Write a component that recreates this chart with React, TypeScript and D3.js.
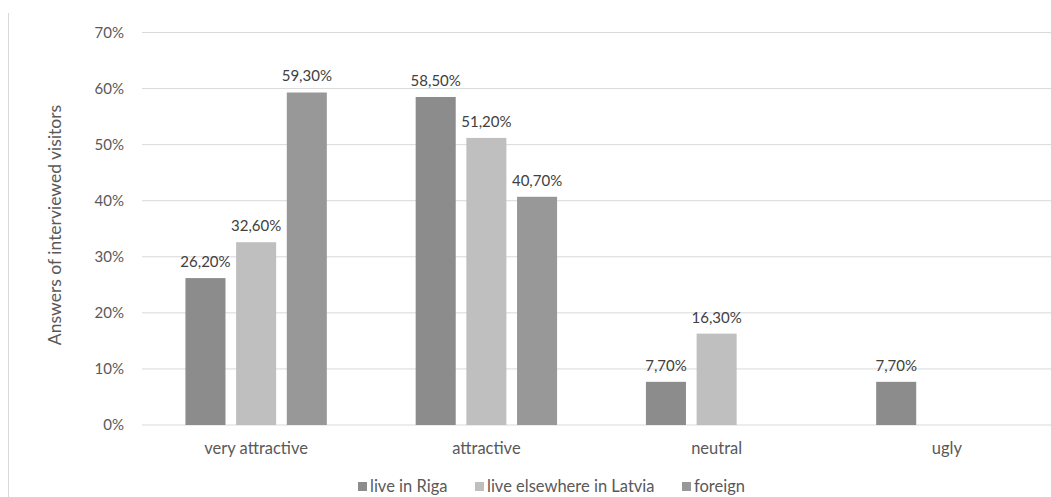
import React from "react";
import * as d3 from "d3";

const categories = ["very attractive", "attractive", "neutral", "ugly"];
const series = ["live in Riga", "live elsewhere in Latvia", "foreign"];
const rigaValues = [26.2, 58.5, 7.7, 7.7];
const elsewhereValues = [32.6, 51.2, 16.3, null];
const foreignValues = [59.3, 40.7, null, null];
const yTicks = [0, 10, 20, 30, 40, 50, 60, 70];
const colors = ["#8c8c8c", "#bfbfbf", "#989898"];

const W = 1051;
const H = 497;
const FONT = "Lato, 'Open Sans', sans-serif";

export default function App() {
  const seriesValues = [rigaValues, elsewhereValues, foreignValues];
  const y = d3.scaleLinear().domain([0, 70]).range([425, 32.5]);
  const x0 = d3.scaleBand<string>().domain(categories).range([141, 1062]);
  const x1 = d3
    .scaleBand<string>()
    .domain(series)
    .range([-70.7, 70.7])
    .paddingInner(0.21);
  const fmt = (v: number) => v.toFixed(2).replace(".", ",") + "%";

  const legendX = [358, 475, 682];

  return (
    <div style={{ position: "absolute", left: 0, top: 0 }}>
      <svg width={W} height={H} style={{ display: "block", background: "#fff" }}>
        <line x1={8.5} x2={8.5} y1={13} y2={H} stroke="#d9d9d9" strokeWidth={1} />
        {yTicks.map((t) => (
          <g key={t}>
            <line x1={142} x2={W} y1={y(t)} y2={y(t)} stroke="#d9d9d9" strokeWidth={1} />
            <text
              x={124}
              y={y(t)}
              dy="0.35em"
              textAnchor="end"
              fontFamily={FONT}
              fontSize={15}
              fill="#595959"
            >
              {t + "%"}
            </text>
          </g>
        ))}
        <text
          transform={`translate(61,225) rotate(-90)`}
          textAnchor="middle"
          fontFamily={FONT}
          fontSize={17.5}
          fill="#595959"
        >
          Answers of interviewed visitors
        </text>
        {categories.map((c, ci) => (
          <g key={c} transform={`translate(${(x0(c) as number) + x0.bandwidth() / 2},0)`}>
            {series.map((s, si) => {
              const v = seriesValues[si][ci];
              if (v == null) return null;
              const bx = x1(s) as number;
              return (
                <g key={s}>
                  <rect
                    x={bx}
                    y={y(v)}
                    width={x1.bandwidth()}
                    height={y(0) - y(v)}
                    fill={colors[si]}
                  />
                  <text
                    x={bx + x1.bandwidth() / 2}
                    y={y(v) - 11}
                    textAnchor="middle"
                    fontFamily={FONT}
                    fontSize={15}
                    fill="#404040"
                  >
                    {fmt(v)}
                  </text>
                </g>
              );
            })}
            <text
              x={0}
              y={454}
              textAnchor="middle"
              fontFamily={FONT}
              fontSize={16.5}
              fill="#595959"
            >
              {c}
            </text>
          </g>
        ))}
        {series.map((s, si) => (
          <g key={s} transform={`translate(${legendX[si]},0)`}>
            <rect x={0} y={482} width={9} height={9} fill={colors[si]} />
            <text x={12} y={492} fontFamily={FONT} fontSize={16.5} fill="#595959">
              {s}
            </text>
          </g>
        ))}
      </svg>
    </div>
  );
}
